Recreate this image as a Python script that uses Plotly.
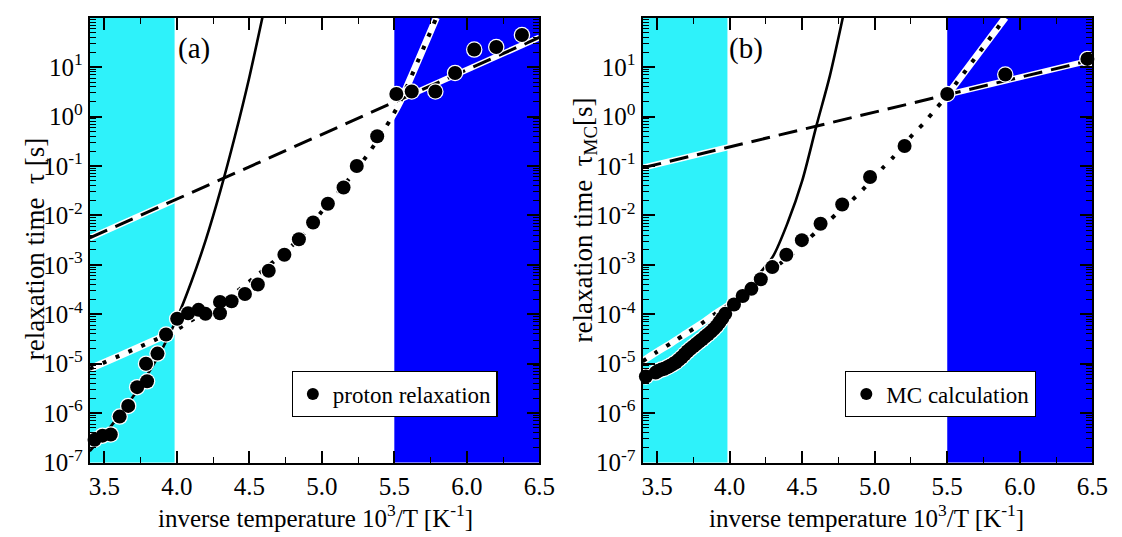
import plotly.graph_objects as go

# ---------------- data ----------------
# panel (a): proton relaxation
a_pts_x = [3.433, 3.488, 3.545, 3.606, 3.665, 3.727, 3.795, 3.788, 3.867, 3.926,
           4.003, 4.078, 4.150, 4.198, 4.298, 4.298, 4.378, 4.470, 4.559, 4.634,
           4.742, 4.842, 4.940, 5.042, 5.150, 5.241, 5.382, 5.514, 5.620, 5.783,
           5.919, 6.051, 6.203, 6.380]
a_pts_y = [2.9e-7, 3.5e-7, 3.7e-7, 8.5e-7, 1.4e-6, 3.35e-6, 4.4e-6, 1.0e-5, 1.6e-5, 3.9e-5,
           8.1e-5, 1.05e-4, 1.23e-4, 1.02e-4, 1.05e-4, 1.78e-4, 1.84e-4, 2.57e-4, 4.0e-4, 7.6e-4,
           1.6e-3, 3.3e-3, 7.2e-3, 1.72e-2, 3.67e-2, 0.10, 0.40, 2.86, 3.22, 3.22,
           7.64, 22.7, 25.6, 44.8]
a_solid_x = [3.40, 3.50, 3.60, 3.70, 3.80, 3.90, 4.00, 4.10, 4.20, 4.30, 4.40, 4.50, 4.59]
a_solid_y = [1.7e-7, 3.7e-7, 8.7e-7, 2.2e-6, 6.2e-6, 2.0e-5, 8.1e-5, 4.5e-4, 3.2e-3, 3.1e-2, 0.39, 6.2, 100]
a_dash_x = [3.4, 6.5]
a_dash_y = [3.5e-3, 40]
a_dot_x = [3.40, 4.00, 4.09, 4.36, 4.53, 4.70, 4.85, 5.00, 5.15, 5.31, 5.43, 5.49, 5.543, 5.79]
a_dot_y = [7.9e-6, 4.9e-5, 7.2e-5, 2.2e-4, 5.4e-4, 1.4e-3, 3.5e-3, 1.2e-2, 4.0e-2, 0.16, 0.54, 1.07, 2.1, 100]

# panel (b): MC calculation
b_pts_x = [3.423, 3.49, 3.51, 3.53, 3.55, 3.57, 3.59, 3.61, 3.63, 3.65, 3.67, 3.69, 3.71,
           3.73, 3.75, 3.77, 3.79, 3.81, 3.83, 3.85, 3.87, 3.89, 3.91, 3.93, 3.95, 3.97,
           4.03, 4.09, 4.15, 4.215, 4.294, 4.391, 4.498, 4.627, 4.776, 4.968, 5.206,
           5.50, 5.90, 6.466]
b_pts_y = [5.5e-6, 6.6e-6, 7.2e-6, 7.6e-6, 7.9e-6, 8.5e-6, 9.1e-6, 9.8e-6, 1.07e-5, 1.2e-5,
           1.35e-5, 1.55e-5, 1.78e-5, 2.0e-5, 2.24e-5, 2.5e-5, 2.8e-5, 3.1e-5, 3.5e-5, 3.9e-5,
           4.4e-5, 5.0e-5, 5.75e-5, 6.9e-5, 8.3e-5, 1.02e-4, 1.58e-4, 2.34e-4, 3.27e-4, 5.1e-4,
           9.0e-4, 1.6e-3, 3.16e-3, 6.8e-3, 1.66e-2, 6.0e-2, 0.254, 2.86, 7.1, 14.7]
b_solid_x = [3.40, 3.50, 3.60, 3.70, 3.80, 3.90, 4.00, 4.10, 4.20, 4.30, 4.40, 4.50, 4.60, 4.69, 4.78]
b_solid_y = [4.8e-6, 6.8e-6, 9.5e-6, 1.58e-5, 2.95e-5, 5.75e-5, 1.17e-4, 2.5e-4, 6.3e-4, 1.5e-3,
             7.1e-3, 5.0e-2, 0.68, 6.5, 100]
b_dash_x = [3.4, 6.5]
b_dash_y = [0.092, 14.0]
b_dot_x = [3.40, 3.50, 3.60, 3.70, 3.80, 3.90, 4.00, 4.14, 4.279, 4.355, 4.441, 4.595, 4.679,
           4.758, 4.837, 4.912, 5.056, 5.127, 5.267, 5.342, 5.407, 5.47, 5.539, 5.90]
b_dot_y = [1.12e-5, 1.74e-5, 2.63e-5, 4.07e-5, 6.3e-5, 1.02e-4, 1.58e-4, 3.3e-4, 6.9e-4, 1.1e-3,
           1.74e-3, 4.6e-3, 7.5e-3, 1.23e-2, 1.95e-2, 3.2e-2, 9.2e-2, 0.15, 0.45, 0.75,
           1.28, 2.11, 3.86, 100]

x_ticks = [3.5, 4.0, 4.5, 5.0, 5.5, 6.0, 6.5]
x_tick_text = ["3.5", "4.0", "4.5", "5.0", "5.5", "6.0", "6.5"]
y_exps = [-7, -6, -5, -4, -3, -2, -1, 0, 1, 2]
y_tick_text = ["10<sup>%d</sup>" % e for e in y_exps]
cyan_band = [3.4, 3.985]
blue_band = [5.5, 6.5]

# ---------------- figure ----------------
W, H = 1122, 537
FONT = "Liberation Serif"
fig = go.Figure()

panels = [
    dict(xa="x", ya="y", pts=(a_pts_x, a_pts_y), solid=(a_solid_x, a_solid_y),
         dash=(a_dash_x, a_dash_y), dot=(a_dot_x, a_dot_y), name="proton relaxation",
         legend="legend"),
    dict(xa="x2", ya="y2", pts=(b_pts_x, b_pts_y), solid=(b_solid_x, b_solid_y),
         dash=(b_dash_x, b_dash_y), dot=(b_dot_x, b_dot_y), name="MC calculation",
         legend="legend2"),
]

def line(xs, ys, p, color, width, dash="solid", shape="linear"):
    fig.add_trace(go.Scatter(x=xs, y=ys, xaxis=p["xa"], yaxis=p["ya"], mode="lines",
                             line=dict(color=color, width=width, dash=dash, shape=shape,
                                       smoothing=0.8),
                             showlegend=False, hoverinfo="skip"))

for p in panels:
    # white backings
    line(*p["dash"], p, "white", 6)
    line(*p["dot"], p, "white", 7, shape="spline")
    # black lines
    line(*p["solid"], p, "black", 2.6, shape="spline")
    line(*p["dash"], p, "black", 3, dash="19px,9px")
    line(*p["dot"], p, "black", 4, dash="4px,10px", shape="spline")

for p in panels:
    # white halo under the points
    fig.add_trace(go.Scatter(x=p["pts"][0], y=p["pts"][1], xaxis=p["xa"], yaxis=p["ya"],
                             mode="markers", marker=dict(size=16.5, color="white"),
                             showlegend=False, hoverinfo="skip", cliponaxis=False))
for p in panels:
    fig.add_trace(go.Scatter(x=p["pts"][0], y=p["pts"][1], xaxis=p["xa"], yaxis=p["ya"],
                             mode="markers", name=p["name"], legend=p["legend"],
                             marker=dict(size=14, color="black"), cliponaxis=False,
                             showlegend=True))

# shaded regions
for xr, yr in (("x", "y"), ("x2", "y2")):
    fig.add_shape(type="rect", xref=xr, yref=yr + " domain", x0=cyan_band[0], x1=cyan_band[1],
                  y0=0, y1=1, fillcolor="#2ef2fa", line_width=0, layer="below")
    fig.add_shape(type="rect", xref=xr, yref=yr + " domain", x0=blue_band[0], x1=blue_band[1],
                  y0=0, y1=1, fillcolor="#0000ff", line_width=0, layer="below")

minor_y = [k * 10.0 ** e for e in range(-7, 2) for k in range(2, 10)]
minor_x = [3.75, 4.25, 4.75, 5.25, 5.75, 6.25]

ydom = [1 - 466.7 / H, 1 - 10 / H]
xdom_a = [82 / W, 538.5 / W]
xdom_b = [643.3 / W, 1100 / W]

def xaxis_cfg(dom, anchor):
    return dict(domain=dom, anchor=anchor, range=[3.4, 6.5], tickmode="array",
                tickvals=x_ticks, ticktext=x_tick_text, ticks="inside", ticklen=12, tickwidth=1.5,
                tickcolor="black", showline=True, linecolor="black", linewidth=2, mirror="allticks",
                showgrid=False, zeroline=False,
                minor=dict(tickmode="array", tickvals=minor_x, ticks="inside", ticklen=6,
                           tickwidth=1.2, tickcolor="black", showgrid=False),
                tickfont=dict(family=FONT, size=25, color="black"))

def yaxis_cfg(anchor):
    return dict(domain=ydom, anchor=anchor, type="log", range=[-7, 2], tickmode="array",
                tickvals=[10.0 ** e for e in y_exps], ticktext=y_tick_text,
                ticks="inside", ticklen=12, tickwidth=1.5, tickcolor="black",
                showline=True, linecolor="black", linewidth=2, mirror="allticks",
                showgrid=False, zeroline=False,
                minor=dict(tickmode="array", tickvals=minor_y, ticks="inside", ticklen=6,
                           tickwidth=1.2, tickcolor="black", showgrid=False),
                tickfont=dict(family=FONT, size=25, color="black"))

fig.update_layout(
    width=W, height=H, margin=dict(l=0, r=0, t=0, b=0),
    paper_bgcolor="white", plot_bgcolor="white",
    font=dict(family=FONT, size=22, color="black"),
    xaxis=xaxis_cfg(xdom_a, "y"), yaxis=yaxis_cfg("x"),
    xaxis2=xaxis_cfg(xdom_b, "y2"), yaxis2=yaxis_cfg("x2"),
    legend=dict(x=287 / W, y=1 - 373 / H, xanchor="left", yanchor="top",
                bgcolor="white", bordercolor="black", borderwidth=1.2,
                font=dict(family=FONT, size=23), itemsizing="constant",
                tracegroupgap=0, itemwidth=30),
    legend2=dict(x=849 / W, y=1 - 373 / H, xanchor="left", yanchor="top",
                 bgcolor="white", bordercolor="black", borderwidth=1.2,
                 font=dict(family=FONT, size=23), itemsizing="constant",
                 tracegroupgap=0, itemwidth=30),
)

ann = [
    dict(text="(a)", x=188 / W, y=1 - 42 / H, size=29, angle=0),
    dict(text="(b)", x=748 / W, y=1 - 42 / H, size=29, angle=0),
    dict(text="inverse temperature 10<sup>3</sup>/T [K<sup>-1</sup>]", x=311 / W, y=1 - 522 / H, size=25, angle=0),
    dict(text="inverse temperature 10<sup>3</sup>/T [K<sup>-1</sup>]", x=871 / W, y=1 - 522 / H, size=25, angle=0),
    dict(text="relaxation time&nbsp;&nbsp;τ [s]", x=26 / W, y=1 - 248 / H, size=27, angle=-90),
    dict(text="relaxation time&nbsp;&nbsp;τ<sub>MC</sub>[s]", x=585 / W, y=1 - 218 / H, size=27, angle=-90),
]
for a in ann:
    fig.add_annotation(text=a["text"], x=a["x"], y=a["y"], xref="paper", yref="paper",
                       xanchor="center", yanchor="middle", showarrow=False, textangle=a["angle"],
                       font=dict(family=FONT, size=a["size"], color="black"))

fig.write_html("out.html")
